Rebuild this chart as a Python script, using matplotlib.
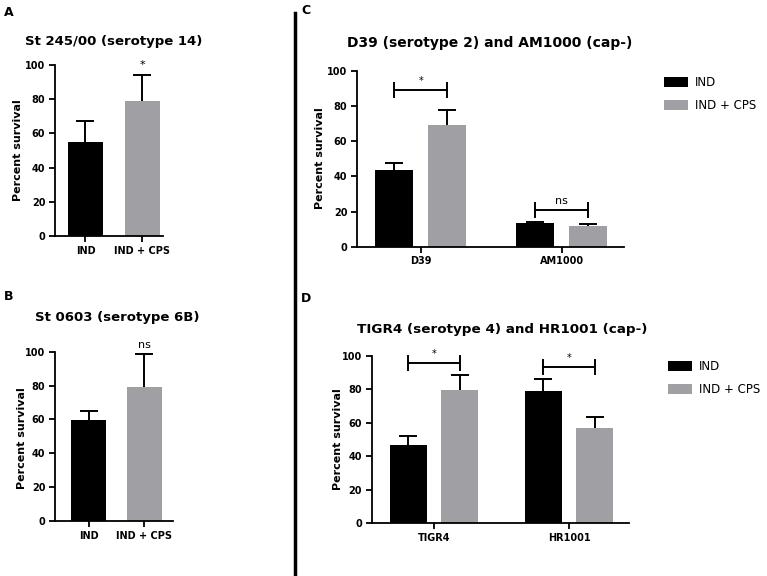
import matplotlib
matplotlib.use("Agg")
import matplotlib.pyplot as plt
import numpy as np

plt.rcParams['font.family'] = ['DejaVu Sans']

W, H = 767, 576
BLACK = '#000000'
GRAY = '#a0a0a4'

# ---------------- data ----------------
groups_ab = ["IND", "IND + CPS"]
a_means = [55.0, 79.0]
a_err = [12.4, 15.3]
a_sig = "*"

b_means = [59.7, 79.0]
b_err = [5.1, 19.6]
b_sig = "ns"

c_groups = ["D39", "AM1000"]
c_ind = [43.6, 13.3]
c_ind_err = [3.8, 0.7]
c_cps = [69.1, 11.9]
c_cps_err = [8.6, 0.8]
c_sig = ["*", "ns"]
c_bracket = [89.0, 20.8]

d_groups = ["TIGR4", "HR1001"]
d_ind = [46.8, 79.3]
d_ind_err = [5.4, 7.1]
d_cps = [79.7, 56.8]
d_cps_err = [9.1, 6.6]
d_sig = ["*", "*"]
d_bracket = [95.6, 93.2]

legend_labels = ["IND", "IND + CPS"]
titles = ["St 245/00 (serotype 14)", "St 0603 (serotype 6B)",
          "D39 (serotype 2) and AM1000 (cap-)", "TIGR4 (serotype 4) and HR1001 (cap-)"]
ylabel = "Percent survival"

fig = plt.figure(figsize=(W / 100, H / 100), dpi=100)


def px_axes(left, top, right, bottom):
    return fig.add_axes([left / W, 1 - bottom / H, (right - left) / W, (bottom - top) / H])


def style(ax):
    for s in ['top', 'right']:
        ax.spines[s].set_visible(False)
    for s in ['left', 'bottom']:
        ax.spines[s].set_linewidth(1.3)
    ax.set_ylim(0, 100)
    ax.set_yticks([0, 20, 40, 60, 80, 100])
    ax.tick_params(axis='both', width=1.3, length=4, labelsize=7, pad=3)
    for lab in ax.get_yticklabels() + ax.get_xticklabels():
        lab.set_fontweight('bold')


def up_err(ax, x, y, e):
    _, caps, _ = ax.errorbar(x, y, yerr=e, fmt='none', ecolor='black', elinewidth=1.4,
                             capsize=6.5, capthick=1.4, zorder=1)
    # only the upward error bar is shown
    caps[0].set_visible(False)


def ftext(x, y, s, **kw):
    fig.text(x / W, 1 - y / H, s, **kw)


# ---------------- panels A & B ----------------
for means, errs, sig, xl, box in [
        (a_means, a_err, a_sig, (-0.535, 1.36), (55, 65, 163, 236)),
        (b_means, b_err, b_sig, (-0.6, 1.51), (55, 351.7, 173, 521))]:
    ax = px_axes(*box)
    x = np.arange(len(means))
    w = 0.62
    ax.bar(x, means, width=w, color=[BLACK, GRAY], zorder=2)
    up_err(ax, x, means, errs)
    ax.set_xlim(*xl)
    ax.set_xticks(x)
    ax.set_xticklabels(groups_ab)
    style(ax)
    ax.text(1, means[1] + errs[1] + 2.5, sig, ha='center', va='bottom',
            fontsize=8, clip_on=False)

# ---------------- panels C & D ----------------
for means1, err1, means2, err2, grp, sigs, brk, xl, box, off, w, tick, lx, ly in [
        (c_ind, c_ind_err, c_cps, c_cps_err, c_groups, c_sig, c_bracket,
         (-0.452, 1.442), (357, 70.7, 624, 246.7), 0.188, 0.266, 4.0, 1.11, 1.03),
        (d_ind, d_ind_err, d_cps, d_cps_err, d_groups, d_sig, d_bracket,
         (-0.461, 1.444), (371.7, 356, 629, 523.3), 0.19, 0.27, 4.2, 1.11, 1.04)]:
    ax = px_axes(*box)
    x = np.arange(len(grp))
    ax.bar(x - off, means1, width=w, color=BLACK, zorder=2, label=legend_labels[0])
    ax.bar(x + off, means2, width=w, color=GRAY, zorder=2, label=legend_labels[1])
    up_err(ax, x - off, means1, err1)
    up_err(ax, x + off, means2, err2)
    for xi, yb, s in zip(x, brk, sigs):
        ax.plot([xi - off, xi + off], [yb, yb], color='black', lw=1.4, clip_on=False)
        for xe in (xi - off, xi + off):
            ax.plot([xe, xe], [yb - tick, yb + tick], color='black', lw=1.4, clip_on=False)
        ax.text(xi, yb + 2.5, s, ha='center', va='bottom',
                fontsize=8 if s == 'ns' else 7, clip_on=False)
    ax.set_xlim(*xl)
    ax.set_xticks(x)
    ax.set_xticklabels(grp)
    style(ax)
    ax.legend(loc='upper left', bbox_to_anchor=(lx, ly), frameon=False,
              fontsize=8.5, handlelength=2.0, handleheight=1.0,
              handletextpad=0.6, labelspacing=0.85)

# ---------------- texts ----------------
ftext(25, 42, titles[0], fontsize=9.5, fontweight='bold', va='center', ha='left')
ftext(35, 318, titles[1], fontsize=9.5, fontweight='bold', va='center', ha='left')
ftext(347, 43, titles[2], fontsize=10, fontweight='bold', va='center', ha='left')
ftext(357, 330, titles[3], fontsize=9.7, fontweight='bold', va='center', ha='left')

ftext(18, 150, ylabel, fontsize=8, fontweight='bold', rotation=90, va='center', ha='center')
ftext(21.7, 438, ylabel, fontsize=8, fontweight='bold', rotation=90, va='center', ha='center')
ftext(320, 158, ylabel, fontsize=8, fontweight='bold', rotation=90, va='center', ha='center')
ftext(338, 439, ylabel, fontsize=8, fontweight='bold', rotation=90, va='center', ha='center')

ftext(4, 12, "A", fontsize=9, fontweight='bold', va='center', ha='left')
ftext(4, 297, "B", fontsize=9, fontweight='bold', va='center', ha='left')
ftext(301, 11, "C", fontsize=9, fontweight='bold', va='center', ha='left')
ftext(301, 298, "D", fontsize=9, fontweight='bold', va='center', ha='left')

# vertical separator line
fig.add_artist(plt.Line2D([295 / W, 295 / W], [1 - 13 / H, 0], color='black', lw=2.5))

fig.savefig("out.png", dpi=100)
